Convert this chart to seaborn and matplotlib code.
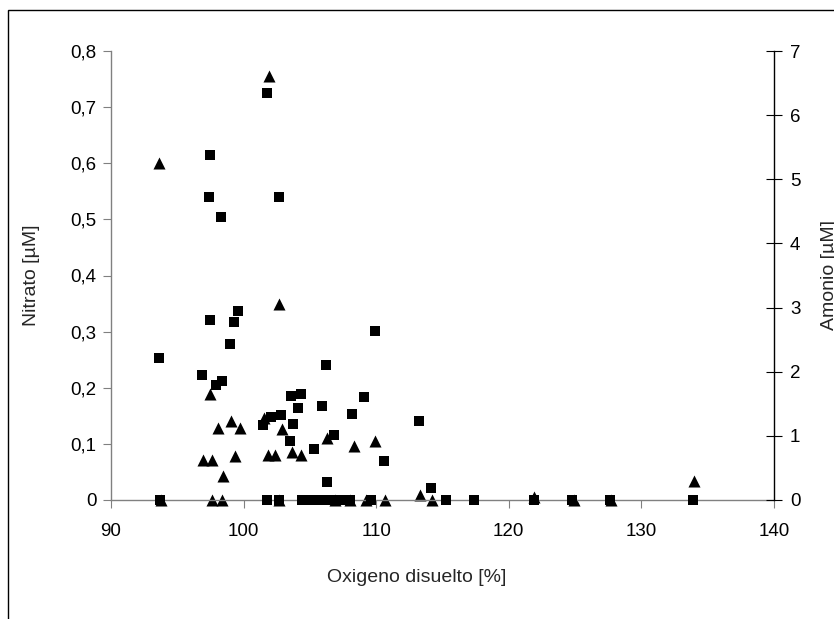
import matplotlib
matplotlib.use("Agg")
import matplotlib.pyplot as plt
import seaborn as sns
import pandas as pd
from matplotlib.ticker import FixedLocator, FuncFormatter
from matplotlib.patches import Rectangle

# Nitrato (left axis, triangles)
nitrato_oxigeno = [93.6, 101.9, 102.7, 97.5, 98.05, 99.05, 99.7, 96.95, 97.65, 98.45,
                   99.35, 101.55, 101.85, 102.4, 102.9, 103.65, 104.3, 106.3, 108.3, 109.9,
                   113.3, 121.9, 134.0,
                   93.8, 97.6, 98.4, 102.7, 106.9, 108.0, 109.2, 110.7, 114.2, 124.9, 127.7]
nitrato_valor = [0.600, 0.755, 0.350, 0.189, 0.129, 0.141, 0.129, 0.072, 0.072, 0.043,
                 0.078, 0.146, 0.080, 0.081, 0.126, 0.086, 0.080, 0.110, 0.096, 0.106,
                 0.009, 0.006, 0.034,
                 0, 0, 0, 0, 0, 0, 0, 0, 0, 0, 0]

# Amonio (right axis, squares)
amonio_oxigeno = [93.6, 97.5, 99.6, 99.3, 99.0, 96.9, 97.9, 98.4, 101.5, 102.1,
                  102.8, 103.6, 104.3, 104.1, 103.7, 103.5, 106.2, 105.9, 105.3, 106.8,
                  106.3, 109.9, 109.1, 108.2, 113.2, 110.6, 114.1, 101.8, 97.5, 97.4,
                  98.3, 102.7,
                  93.7, 101.8, 102.7, 104.4, 105.0, 105.6, 106.2, 106.8, 107.4, 108.0,
                  109.6, 115.3, 117.4, 121.9, 124.8, 127.6, 133.9]
amonio_valor = [2.22, 2.80, 2.95, 2.77, 2.43, 1.95, 1.80, 1.86, 1.17, 1.29,
                1.32, 1.62, 1.65, 1.44, 1.19, 0.92, 2.10, 1.46, 0.80, 1.01,
                0.28, 2.64, 1.61, 1.34, 1.23, 0.61, 0.19, 6.34, 5.38, 4.72,
                4.41, 4.73,
                0, 0, 0, 0, 0, 0, 0, 0, 0, 0,
                0, 0, 0, 0, 0, 0, 0]

x_ticks = [90, 100, 110, 120, 130, 140]
left_ticks = [0, 0.1, 0.2, 0.3, 0.4, 0.5, 0.6, 0.7, 0.8]
right_ticks = [0, 1, 2, 3, 4, 5, 6, 7]

sns.set_theme(style="white")
plt.rcParams["font.family"] = ["Liberation Sans", "DejaVu Sans"]
FS_TICK = 13.5
FS_LABEL = 14

df_n = pd.DataFrame({"ox": nitrato_oxigeno, "val": nitrato_valor})
df_a = pd.DataFrame({"ox": amonio_oxigeno, "val": amonio_valor})

fig = plt.figure(figsize=(8.34, 6.19), dpi=100)
ax = fig.add_axes([111 / 834, 1 - 500 / 619, 663 / 834, 449 / 619])
ax2 = ax.twinx()

sns.scatterplot(data=df_n, x="ox", y="val", ax=ax, marker="^", s=75,
                color="black", edgecolor="black", linewidth=0, clip_on=False)
sns.scatterplot(data=df_a, x="ox", y="val", ax=ax2, marker="s", s=56,
                color="black", edgecolor="black", linewidth=0, clip_on=False)

ax.set_xlim(90, 140)
ax.set_ylim(0, 0.8)
ax2.set_ylim(0, 7)

ax.xaxis.set_major_locator(FixedLocator(x_ticks))
ax.yaxis.set_major_locator(FixedLocator(left_ticks))
ax2.yaxis.set_major_locator(FixedLocator(right_ticks))


def coma(v, pos):
    if abs(v) < 1e-9:
        return "0"
    return f"{v:.1f}".replace(".", ",")


ax.yaxis.set_major_formatter(FuncFormatter(coma))
ax2.yaxis.set_major_formatter(FuncFormatter(lambda v, p: f"{int(round(v))}"))

for side in ["top", "right"]:
    ax.spines[side].set_visible(False)
for side in ["top", "left", "bottom"]:
    ax2.spines[side].set_visible(False)
ax.spines["left"].set_color("#808080")
ax.spines["bottom"].set_color("#808080")
ax.spines["left"].set_linewidth(1.0)
ax.spines["bottom"].set_linewidth(1.0)
ax2.spines["right"].set_color("black")
ax2.spines["right"].set_linewidth(1.0)

ax.tick_params(axis="y", direction="out", length=5.5, width=0.8, color="#808080",
               pad=5, labelsize=FS_TICK, labelcolor="black", left=True)
ax.tick_params(axis="x", direction="out", length=5.5, width=0.8, color="#808080",
               pad=11, labelsize=FS_TICK, labelcolor="black", bottom=True)
ax2.tick_params(axis="y", direction="inout", length=11, width=0.8, color="black",
                pad=6, labelsize=FS_TICK, labelcolor="black", right=True)

ax.set_xlabel("Oxigeno disuelto [%]", fontsize=FS_LABEL)
ax.set_ylabel("Nitrato [µM]", fontsize=FS_LABEL)
ax2.set_ylabel("Amonio [µM]", fontsize=FS_LABEL, rotation=90)
ax.xaxis.set_label_coords((417 - 111) / 663, (500 - 578) / 449)
ax.xaxis.label.set_va("center")
ax.yaxis.set_label_coords((32 - 111) / 663, 0.5)
ax.yaxis.label.set_va("center")
ax2.yaxis.set_label_coords((830 - 111) / 663, 0.5)
ax2.yaxis.label.set_va("center")

ax.grid(False)
ax2.grid(False)
ax.patch.set_visible(False)

# outer chart frame
fig.patches.append(Rectangle((8 / 834, -0.1), 1.2, 1.1 - 10 / 619,
                             transform=fig.transFigure, fill=False,
                             edgecolor="black", linewidth=1.0))

fig.savefig("out.png", dpi=100)
